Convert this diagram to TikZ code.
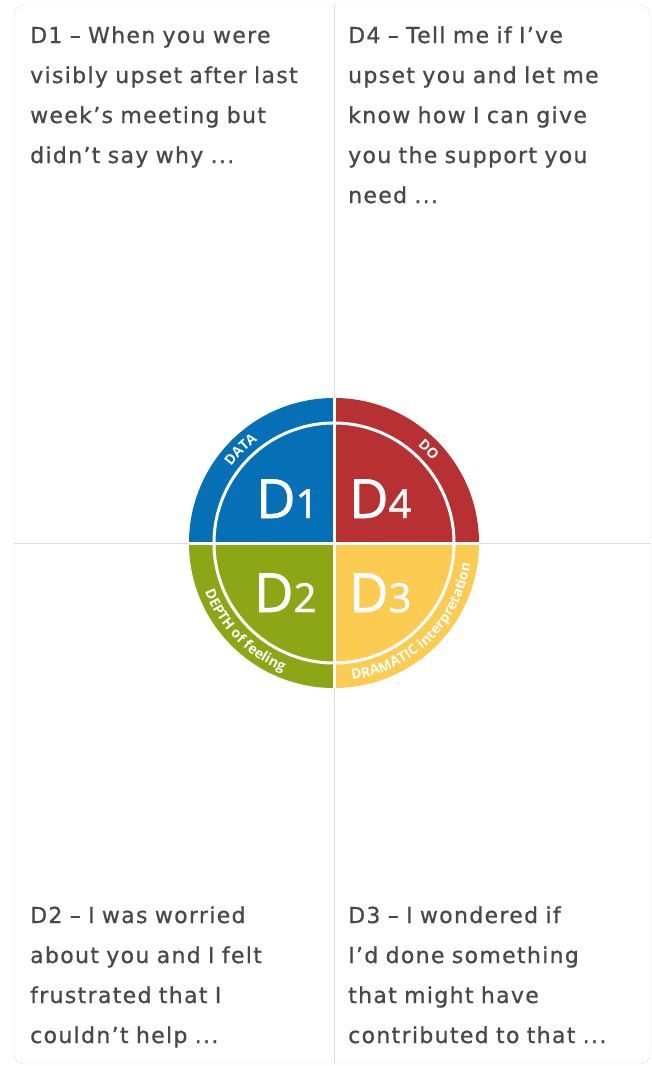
\documentclass[tikz,border=0pt]{standalone}
\usepackage{fontspec}
\setmainfont{DejaVu Sans}[LetterSpace=6, FakeBold=0.8]
\newfontfamily\wheelfont{Open Sans}
\newfontfamily\bigdfont{Open Sans}[FakeBold=1.2]
\usetikzlibrary{decorations.text}
\definecolor{dblue}{RGB}{5,112,181}
\definecolor{dred}{RGB}{183,49,50}
\definecolor{dgreen}{RGB}{140,166,22}
\definecolor{dyellow}{RGB}{252,203,82}
\definecolor{gridgray}{RGB}{221,221,221}
\definecolor{notegray}{RGB}{72,72,72}
\newcommand{\ringfont}{\wheelfont\bfseries\fontsize{14}{14}\selectfont}
\newcommand{\subd}[1]{{\fontsize{40}{40}\selectfont #1}}
\tikzset{
  note/.style={anchor=base west, inner sep=0pt, align=left, text width=300pt,
    text=notegray, font=\fontsize{22}{40}\selectfont},
  bigd/.style={anchor=base west, inner sep=0pt, text=white,
    font=\bigdfont\fontsize{54}{54}\selectfont},
  ringtext/.style={decorate, decoration={text along path, text align=center,
    text color=white}}
}

\begin{document}
\begin{tikzpicture}[x=1pt, y=1pt]
    \useasboundingbox (0,0) rectangle (651,-1066);

    % Cornice e assi
    \draw[gridgray, rounded corners=10pt] (14,-5) rectangle (650,-1064);
    \draw[gridgray] (334,-5) -- (334,-1064);
    \draw[gridgray] (14,-543) -- (650,-543);

    % Ruota delle 4 D
    \coordinate (c) at (334,-543);
    \fill[dblue] (c) -- ++(90:145) arc[start angle=90, end angle=180, radius=145pt] -- cycle;
    \fill[dgreen] (c) -- ++(180:145) arc[start angle=180, end angle=270, radius=145pt] -- cycle;
    \fill[dyellow] (c) -- ++(270:145) arc[start angle=270, end angle=360, radius=145pt] -- cycle;
    \fill[dred] (c) -- ++(0:145) arc[start angle=0, end angle=90, radius=145pt] -- cycle;
    \draw[white, line width=3pt] (c) circle[radius=120pt];
    \draw[white, line width=3pt] ([yshift=145pt]c) -- ([yshift=-145pt]c);
    \draw[white, line width=3pt] ([xshift=-145pt]c) -- ([xshift=145pt]c);

    % Etichette grandi
    \node[bigd] (d1) at (256,-518) {D\subd{1}};
    \node[bigd] (d4) at (349,-518) {D\subd{4}};
    \node[bigd] (d2) at (254,-612) {D\subd{2}};
    \node[bigd] (d3) at (349,-612) {D\subd{3}};

    % Testo sull'anello (sopra: orario, sotto: antiorario)
    \path[ringtext, decoration={text={|\ringfont|DATA}}]
        ([shift={(165:128)}]c) arc[start angle=165, end angle=105, radius=128pt];
    \path[ringtext, decoration={text={|\ringfont|DO}}]
        ([shift={(75:128)}]c) arc[start angle=75, end angle=14, radius=128pt];
    \path[ringtext, decoration={text={|\ringfont|DEPTH of feeling}}]
        ([shift={(186:138)}]c) arc[start angle=186, end angle=263, radius=138pt];
    \path[ringtext, decoration={text={|\ringfont|DRAMATIC interpretation}}]
        ([shift={(268:138)}]c) arc[start angle=268, end angle=361, radius=138pt];

    % Frasi nei quattro riquadri
    \node[note] (n1) at (30,-43) {D1 – When you were\\visibly upset after last\\week’s meeting but\\didn’t say why ...};
    \node[note] (n4) at (348,-43) {D4 – Tell me if I’ve\\upset you and let me\\know how I can give\\you the support you\\need ...};
    \node[note] (n2) at (30,-923) {D2 – I was worried\\about you and I felt\\frustrated that I\\couldn’t help ...};
    \node[note] (n3) at (348,-923) {D3 – I wondered if\\I’d done something\\that might have\\contributed to that ...};
\end{tikzpicture}
\end{document}
